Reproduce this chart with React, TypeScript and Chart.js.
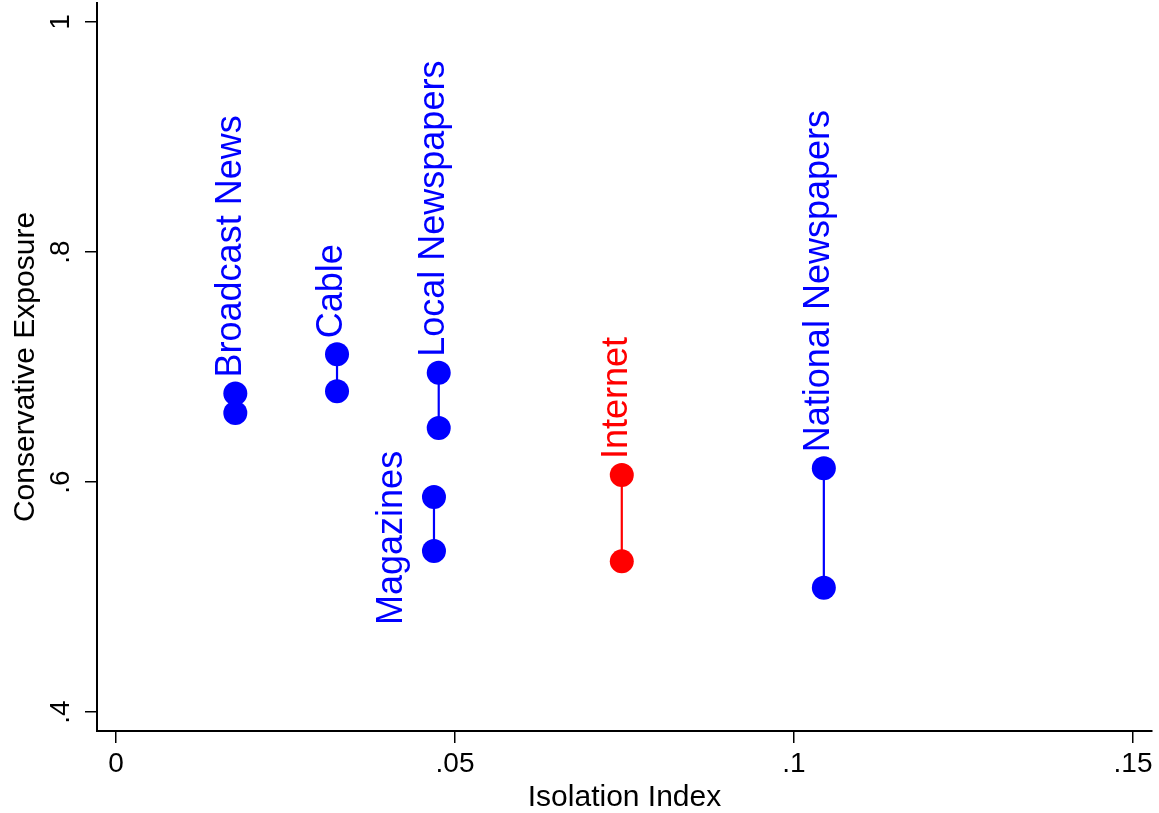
import React, { useEffect, useRef } from 'react';
import { Chart, registerables } from 'chart.js';

Chart.register(...registerables);

// ---- data ----
const outlets = ['Broadcast News', 'Cable', 'Local Newspapers', 'Magazines', 'Internet', 'National Newspapers'];
const isolationIndex = [0.0176, 0.0326, 0.0476, 0.0469, 0.0746, 0.1044];
const exposureHigh = [0.677, 0.711, 0.695, 0.587, 0.606, 0.612];
const exposureLow = [0.660, 0.679, 0.647, 0.540, 0.531, 0.508];

const xTicks = [0, 0.05, 0.1, 0.15];
const xTickLabels = ['0', '.05', '.1', '.15'];
const yTicks = [0.4, 0.6, 0.8, 1];
const yTickLabels = ['.4', '.6', '.8', '1'];

const xTitle = 'Isolation Index';
const yTitle = 'Conservative Exposure';

// ---- styles ----
const BLUE = '#0000ff';
const RED = '#ff0000';
const seriesColors = [BLUE, BLUE, BLUE, BLUE, RED, BLUE];
// label offset (px) from the upper point: dx, dy (start of rotated text)
const labelOffsets: [number, number][] = [
  [-4.5, -16],
  [-4.5, -16],
  [-4.5, -16],
  [-41.5, 128],
  [-4.5, -16],
  [-4.5, -16],
];
const FONT = '"Liberation Sans", Arial, Helvetica, sans-serif';

const textPlugin = {
  id: 'stataText',
  afterDraw(chart: any) {
    const ctx = chart.ctx as CanvasRenderingContext2D;
    const xs = chart.scales.x;
    const ys = chart.scales.y;
    ctx.save();
    // marker labels
    ctx.font = `36px ${FONT}`;
    ctx.textAlign = 'left';
    ctx.textBaseline = 'middle';
    outlets.forEach((name, i) => {
      const px = xs.getPixelForValue(isolationIndex[i]);
      const py = ys.getPixelForValue(exposureHigh[i]);
      const [dx, dy] = labelOffsets[i];
      ctx.save();
      ctx.translate(px + dx, py + dy);
      ctx.rotate(-Math.PI / 2);
      ctx.fillStyle = seriesColors[i];
      ctx.fillText(name, 0, 0);
      ctx.restore();
    });
    // x tick labels
    ctx.fillStyle = '#000';
    ctx.font = `28px ${FONT}`;
    ctx.textAlign = 'center';
    ctx.textBaseline = 'alphabetic';
    xTicks.forEach((v, i) => {
      ctx.fillText(xTickLabels[i], xs.getPixelForValue(v), 772);
    });
    // y tick labels (rotated)
    yTicks.forEach((v, i) => {
      ctx.save();
      ctx.translate(69, ys.getPixelForValue(v));
      ctx.rotate(-Math.PI / 2);
      ctx.fillText(yTickLabels[i], 0, 0);
      ctx.restore();
    });
    // titles
    ctx.font = `30px ${FONT}`;
    const area = chart.chartArea;
    ctx.fillText(xTitle, (area.left + area.right) / 2, 806);
    ctx.save();
    ctx.translate(34, (area.top + area.bottom) / 2);
    ctx.rotate(-Math.PI / 2);
    ctx.fillText(yTitle, 0, 0);
    ctx.restore();
    ctx.restore();
  },
};

export default function App() {
  const ref = useRef<HTMLCanvasElement | null>(null);
  useEffect(() => {
    if (!ref.current) return;
    const datasets = outlets.map((name, i) => ({
      label: name,
      data: [
        { x: isolationIndex[i], y: exposureHigh[i] },
        { x: isolationIndex[i], y: exposureLow[i] },
      ],
      showLine: true,
      borderColor: seriesColors[i],
      backgroundColor: seriesColors[i],
      borderWidth: 2.2,
      pointRadius: 12,
      pointHoverRadius: 12,
      pointBorderWidth: 0,
      pointBackgroundColor: seriesColors[i],
    }));
    const chart = new Chart(ref.current, {
      type: 'scatter',
      data: { datasets },
      options: {
        animation: false,
        responsive: false,
        devicePixelRatio: 1,
        layout: { autoPadding: false, padding: { left: 0, top: 3, right: 7, bottom: 0 } },
        plugins: { legend: { display: false }, tooltip: { enabled: false } },
        scales: {
          x: {
            type: 'linear',
            min: -0.0028,
            max: 0.1528,
            afterBuildTicks: (s: any) => { s.ticks = xTicks.map((v) => ({ value: v })); },
            afterFit: (s: any) => { s.height = 82; },
            ticks: { display: false },
            grid: { drawOnChartArea: false, drawTicks: true, tickLength: 12, color: '#000', lineWidth: 1.5 },
            border: { display: true, color: '#000', width: 2 },
          },
          y: {
            type: 'linear',
            min: 0.3835,
            max: 1.0165,
            afterBuildTicks: (s: any) => { s.ticks = yTicks.map((v) => ({ value: v })); },
            afterFit: (s: any) => { s.width = 97; },
            ticks: { display: false },
            grid: { drawOnChartArea: false, drawTicks: true, tickLength: 12, color: '#000', lineWidth: 1.5 },
            border: { display: true, color: '#000', width: 2 },
          },
        },
      },
      plugins: [textPlugin],
    });
    return () => chart.destroy();
  }, []);
  return (
    <div style={{ position: 'fixed', left: 0, top: 0, width: 1159, height: 813, background: '#fff' }}>
      <canvas ref={ref} width={1159} height={813} style={{ display: 'block', width: 1159, height: 813 }} />
    </div>
  );
}
